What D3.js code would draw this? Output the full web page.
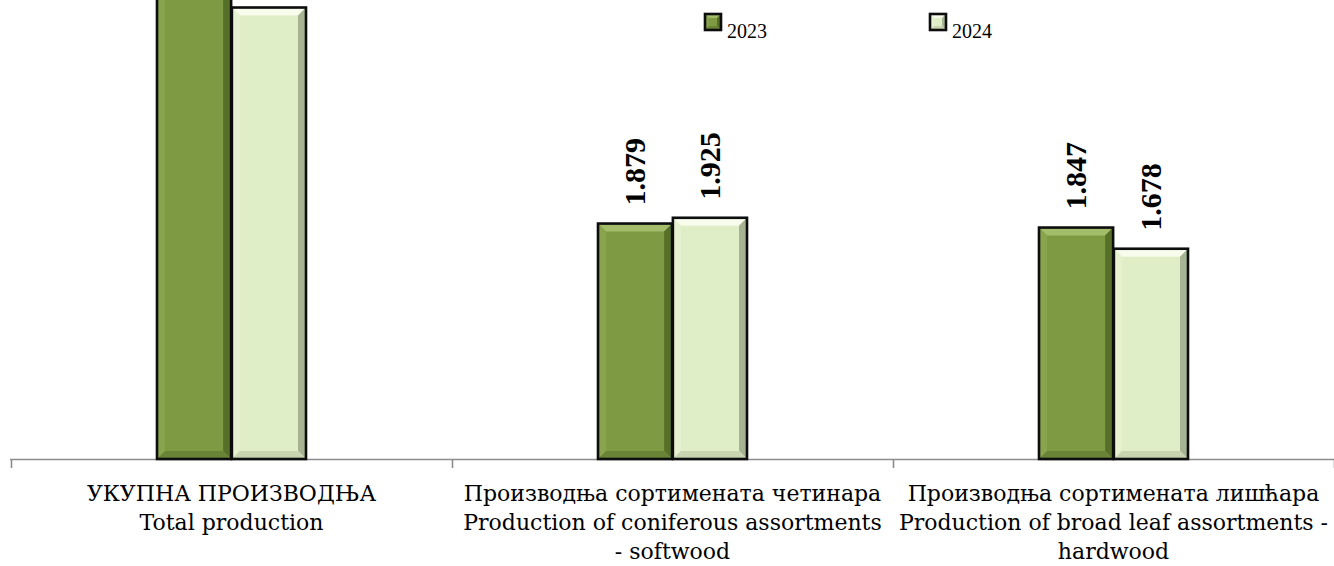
<!DOCTYPE html>
<html>
<head>
<meta charset="utf-8">
<script src="https://cdn.jsdelivr.net/npm/d3@7"></script>
<style>
  html, body { margin: 0; padding: 0; background: #ffffff; }
  svg { display: block; }
</style>
</head>
<body>
<svg id="chart" width="1334" height="566"></svg>
<script>
// ---- data ----
const categories = ["total", "coniferous", "broadleaf"];
const categoryLines = [
  ["УКУПНА ПРОИЗВОДЊА", "Total production"],
  ["Производња сортимената четинара", "Production of coniferous assortments", "- softwood"],
  ["Производња сортимената лишћара", "Production of broad leaf assortments -", "hardwood"]
];
const seriesNames = ["2023", "2024"];
const values2023 = [3.726, 1.879, 1.847];
const values2024 = [3.603, 1.925, 1.678];
const valueLabels2023 = ["3.726", "1.879", "1.847"];
const valueLabels2024 = ["3.603", "1.925", "1.678"];

const seriesValues = [values2023, values2024];
const seriesLabels = [valueLabels2023, valueLabels2024];

// ---- styles ----
const palette = [
  { main: "#7e9b43", top: "#a3bd6b", left: "#88a44c", right: "#56702a", bottom: "#6a8437" },
  { main: "#e0eec7", top: "#f8fced", left: "#e6f1d0", right: "#a7b494", bottom: "#c9d5b1" }
];

const svg = d3.select("#chart");
const plotLeft = 11, plotRight = 1334, baseY = 459, topY = 0;

const x0 = d3.scaleBand().domain(categories).range([plotLeft, plotRight]).paddingInner(0).paddingOuter(0);
const x1 = d3.scaleBand().domain(seriesNames).range([0, x0.bandwidth()]).paddingInner(0.01).paddingOuter(1.95);
const y = d3.scaleLinear().domain([0, 3.663]).range([baseY, topY]);

// ---- axis (ticks between categories) ----
const tickScale = d3.scaleLinear().domain([0, categories.length]).range([plotLeft, plotRight]);
const axisG = svg.append("g").attr("transform", `translate(0,${baseY})`)
  .call(d3.axisBottom(tickScale).tickValues(d3.range(0, categories.length + 1)).tickSize(9).tickSizeOuter(0).tickFormat(""));
axisG.select(".domain").attr("stroke", "#8c8c8c").attr("stroke-width", 1.6).attr("d", `M${plotLeft - 1},0.5H${plotRight}`);
axisG.selectAll(".tick line").attr("stroke", "#8c8c8c").attr("stroke-width", 1.6);

// ---- bevelled bars ----
function bevelBar(g, x, yTop, w, h, c, bev) {
  const b = Math.min(bev, h / 2, w / 2);
  const X2 = x + w, Y2 = yTop + h;
  g.append("rect").attr("x", x).attr("y", yTop).attr("width", w).attr("height", h).attr("fill", c.main);
  const poly = (pts, fill) => g.append("polygon").attr("points", pts.map(p => p.join(",")).join(" ")).attr("fill", fill);
  poly([[x, yTop], [X2, yTop], [X2 - b, yTop + b], [x + b, yTop + b]], c.top);
  poly([[x, yTop], [x + b, yTop + b], [x + b, Y2 - b], [x, Y2]], c.left);
  poly([[X2, yTop], [X2, Y2], [X2 - b, Y2 - b], [X2 - b, yTop + b]], c.right);
  poly([[x, Y2], [x + b, Y2 - b], [X2 - b, Y2 - b], [X2, Y2]], c.bottom);
  g.append("rect").attr("x", x).attr("y", yTop).attr("width", w).attr("height", h)
    .attr("fill", "none").attr("stroke", "#0d0d0d").attr("stroke-width", 2.6);
}

const barsG = svg.append("g");
categories.forEach((cat, ci) => {
  seriesNames.forEach((s, si) => {
    const v = seriesValues[si][ci];
    const bx = x0(cat) + x1(s);
    const by = y(v);
    bevelBar(barsG.append("g"), bx, by, x1.bandwidth(), baseY - by, palette[si], 8);
  });
});

// ---- value labels (rotated); those above the visible plot are clipped away as in the original ----
const labG = svg.append("g");
categories.forEach((cat, ci) => {
  seriesNames.forEach((s, si) => {
    const v = seriesValues[si][ci];
    const ty = y(v) - 18;
    if (ty - 70 < 0) return; // label falls outside the picture area
    const cx = x0(cat) + x1(s) + x1.bandwidth() / 2 + 10;
    labG.append("text")
      .attr("transform", `translate(${cx},${ty}) rotate(-90)`)
      .attr("text-anchor", "start")
      .attr("font-family", "'Liberation Serif', serif")
      .attr("font-weight", "bold")
      .attr("font-size", 30)
      .attr("fill", "#000")
      .text(seriesLabels[si][ci]);
  });
});

// ---- category labels ----
const catG = svg.append("g");
categories.forEach((cat, ci) => {
  const cx = x0(cat) + x0.bandwidth() / 2;
  const t = catG.append("text")
    .attr("text-anchor", "middle")
    .attr("font-family", "'DejaVu Serif', serif")
    .attr("font-size", 22)
    .attr("fill", "#000");
  categoryLines[ci].forEach((ln, li) => {
    t.append("tspan").attr("x", cx).attr("y", 501 + li * 29).text(ln);
  });
});

// ---- legend ----
const legendX = [704, 929];
const legG = svg.append("g");
seriesNames.forEach((s, si) => {
  const g = legG.append("g");
  bevelBar(g, legendX[si] + 1, 14, 16, 16, palette[si], 4);
  g.append("text")
    .attr("x", legendX[si] + 23)
    .attr("y", 38)
    .attr("font-family", "'Liberation Serif', serif")
    .attr("font-size", 20)
    .attr("fill", "#000")
    .text(s);
});
</script>
</body>
</html>
